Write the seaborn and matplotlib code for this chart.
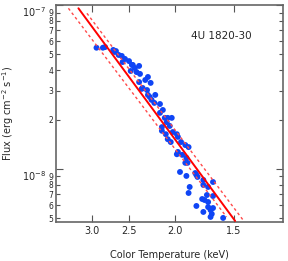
import matplotlib
matplotlib.use("Agg")
import matplotlib.pyplot as plt
import matplotlib.ticker as mticker
import numpy as np
import pandas as pd
import seaborn as sns

# color temperature (keV) and flux (1e-8 erg cm^-2 s^-1) of each observation
temp_kev = [2.93, 2.84, 2.81, 2.70, 2.68, 2.665, 2.63, 2.59, 2.58, 2.55,
            2.50, 2.465, 2.455, 2.48, 2.43, 2.41, 2.38, 2.37, 2.38, 2.31,
            2.28, 2.25, 2.34, 2.29, 2.35, 2.28, 2.26, 2.20, 2.24, 2.21,
            2.15, 2.12, 2.15, 2.10, 2.07, 2.03, 2.08, 2.05, 2.13, 2.13,
            2.09, 2.02, 1.98, 2.07, 2.04, 1.97, 1.94, 1.90, 1.87, 1.97,
            1.93, 1.98, 1.89, 1.90, 1.88, 1.95, 1.89, 1.81, 1.80, 1.79,
            1.74, 1.74, 1.70, 1.66, 1.86, 1.87, 1.71, 1.66, 1.75, 1.73,
            1.70, 1.80, 1.70, 1.74, 1.68, 1.66, 1.67, 1.68, 1.58]
flux_e8 = [5.49, 5.49, 5.54, 5.32, 5.17, 5.24, 4.96, 4.89, 4.49, 4.69,
           4.55, 4.31, 4.31, 3.96, 4.13, 3.90, 4.25, 3.80, 3.39, 3.49,
           3.64, 3.35, 3.12, 3.03, 3.08, 2.83, 2.75, 2.83, 2.64, 2.53,
           2.49, 2.29, 2.20, 2.05, 2.05, 2.05, 1.93, 1.83, 1.80, 1.71,
           1.63, 1.68, 1.63, 1.52, 1.46, 1.57, 1.46, 1.40, 1.36, 1.27,
           1.22, 1.23, 1.17, 1.09, 1.09, 0.959, 0.907, 0.945, 0.919, 0.894,
           0.857, 0.799, 0.777, 0.833, 0.777, 0.714, 0.694, 0.684, 0.656, 0.647,
           0.629, 0.595, 0.586, 0.547, 0.562, 0.578, 0.532, 0.510, 0.503]

# F ~ T^4 fit and its bounds (end points)
fit_temp = [3.20, 1.49]
fit_flux = [9.55e-8, 4.82e-9]
low_temp = [3.36, 1.554]
low_flux = [9.55e-8, 5.10e-9]
high_temp = [3.07, 1.434]
high_flux = [8.90e-8, 4.89e-9]

x_ticks = [3.0, 2.5, 2.0, 1.5]
source_name = "4U 1820-30"

sns.set_style("ticks")
plt.rcParams["font.family"] = ["DejaVu Sans"]

df = pd.DataFrame({"temp": temp_kev, "flux": np.array(flux_e8) * 1e-8})

fig = plt.figure(figsize=(2.88, 2.61), dpi=100)
ax = fig.add_axes([0.1944, 0.1494, 0.7882, 0.8314])

for tt, ff, style, lw, col in [(low_temp, low_flux, (0, (2, 2)), 1.0, "#ff4a4a"),
                               (high_temp, high_flux, (0, (2, 2)), 1.0, "#ff4a4a"),
                               (fit_temp, fit_flux, "-", 1.4, "#ff0000")]:
    ax.plot(tt, ff, linestyle=style, lw=lw, color=col, zorder=3)

sns.scatterplot(data=df, x="temp", y="flux", ax=ax, color="#0f45f5",
                s=18, edgecolor="none", zorder=2, legend=False)

ax.set_xscale("log")
ax.set_yscale("log")
ax.set_xlim(3.57, 1.18)
ax.set_ylim(4.75e-9, 1.0e-7)

ax.xaxis.set_major_locator(mticker.FixedLocator(x_ticks))
ax.xaxis.set_major_formatter(mticker.FixedFormatter([f"{v:.1f}" for v in x_ticks]))
ax.xaxis.set_minor_locator(mticker.NullLocator())

ax.yaxis.set_major_locator(mticker.FixedLocator([1e-8, 1e-7]))
ax.yaxis.set_major_formatter(mticker.FixedFormatter([r"$10^{-8}$", r"$10^{-7}$"]))
minor_y = [5e-9, 6e-9, 7e-9, 8e-9, 9e-9] + [k * 1e-8 for k in range(2, 10)]
ax.yaxis.set_minor_locator(mticker.FixedLocator(minor_y))
ax.yaxis.set_minor_formatter(mticker.FixedFormatter(
    ["5", "6", "7", "8", "9"] + [str(k) for k in range(2, 10)]))

ax.tick_params(which="both", direction="in", top=True, right=True,
               color="#555555", width=0.8)
ax.tick_params(which="major", length=5, labelsize=7, pad=3)
ax.tick_params(axis="y", which="major", pad=7)
ax.tick_params(which="minor", length=3, labelsize=5.5, pad=2)
for t in ax.yaxis.get_majorticklabels():
    t.set_va("top")
for sp in ax.spines.values():
    sp.set_color("#666666")
    sp.set_linewidth(1.2)

ax.set_xlabel("Color Temperature (keV)", fontsize=7)
ax.set_ylabel(r"Flux (erg cm$^{-2}$ s$^{-1}$)", fontsize=7)
ax.xaxis.set_label_coords(0.5, -0.13)
ax.yaxis.set_label_coords(-0.175, 0.5)

ax.text(0.73, 0.857, source_name, transform=ax.transAxes, fontsize=7.5,
        ha="center", va="center")

fig.savefig("out.png", dpi=100)
